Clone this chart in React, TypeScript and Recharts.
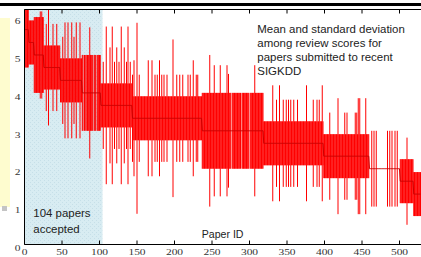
import React from 'react';
import { ComposedChart, Line, ErrorBar, XAxis, YAxis, ReferenceArea } from 'recharts';

// Mean review score of each block of papers (papers sorted by mean score)
const groupMeans = [5.67, 5.33, 5.0, 4.67, 4.33, 4.0, 3.67, 3.33, 3.0, 2.67, 2.33, 2.0, 1.67, 1.33];
// Number of papers in each block
const groupSizes = [5, 7, 13, 22, 29, 25, 42, 93, 82, 80, 61, 41, 18, 10];
// Typical standard deviation inside each block
const groupStds = [1.0, 0.58, 1.0, 0.58, 0.58, 1.0, 0.58, 0.58, 1.0, 0.58, 0.58, 0, 0.58, 0.58];
// Papers whose standard deviation differs from the block's typical one
const spikePapers = [
  21, 23,
  29, 32, 38, 43,
  51, 54, 58, 63, 66, 69, 74,
  79, 82, 87, 92, 96,
  105, 109, 114, 117, 120, 123, 126, 129, 133, 136, 138, 141,
  144, 146, 150, 153, 165, 170, 174, 177, 180, 183, 186, 190, 198, 203, 207, 211, 218, 221, 225, 229, 231,
  247, 253, 261, 270, 272, 276, 289, 300, 307,
  331, 336, 340, 345, 349, 352, 355, 359, 364, 376, 385, 390, 393, 397,
  407, 418, 427, 430, 441, 443, 445, 447, 455,
  463, 466, 469, 484, 487, 490, 494, 497,
  510,
];
const spikeStds = [
  1.15, 1.15,
  1.15, 1.53, 1.15, 1.15,
  1.15, 1.53, 1.53, 1.53, 1.15, 1.53, 1.53,
  0, 0, 1.73, 0, 0,
  1.15, 2.08, 1.53, 2.08, 1.15, 1.53, 1.15, 2.08, 1.53, 1.15, 2.08, 1.15,
  1.15, 1.53, 2.52, 1.15, 1.53, 1.53, 1.15, 1.15, 1.53, 1.15, 1.15, 1.15, 2.08, 1.15, 1.15, 1.15, 1.15, 1.15, 1.53, 1.15, 1.15,
  2.0, 1.73, 1.73, 1.73, 1.5, 0, 0, 0, 1.73,
  1.53, 1.15, 1.53, 1.15, 1.15, 1.15, 1.15, 1.15, 1.15, 1.53, 1.15, 1.15, 1.15, 1.53,
  1.15, 1.53, 1.15, 1.15, 1.15, 1.15, 1.53, 1.53, 1.53,
  1, 1, 1, 1, 1, 1, 1, 1,
  1.15,
];

const xTicks = [0, 50, 100, 150, 200, 250, 300, 350, 400, 450, 500];
const yTicks = [0, 1, 2, 3, 4, 5, 6];
const xDomain: [number, number] = [0, 540];
const yDomain: [number, number] = [0, 6.2];
const acceptedCount = 104;

const annotationLines = [
  'Mean and standard deviation',
  'among review scores for',
  'papers submitted to recent',
  'SIGKDD',
];
const acceptedLines = ['104 papers', 'accepted'];
const xTitle = 'Paper ID';

type Row = { x: number; mean: number; err: [number, number] };
const rows: Row[] = [];
{
  let paper = 1;
  groupMeans.forEach((m, g) => {
    for (let k = 0; k < groupSizes[g]; k++) {
      const si = spikePapers.indexOf(paper);
      const sd = si >= 0 ? spikeStds[si] : groupStds[g];
      // the upper whisker is cut at the top of the plot frame
      rows.push({ x: paper, mean: m, err: [sd, Math.min(sd, yDomain[1] - m)] });
      paper++;
    }
  });
}

const tickFont = '"Liberation Serif", "Times New Roman", serif';
const textFont = '"Liberation Sans", Arial, Helvetica, sans-serif';

const XTick = (props: any) => {
  const { x, y, payload } = props;
  return (
    <text
      transform={`translate(${x},${y + 6.5}) scale(1.35,1)`}
      x={0}
      y={0}
      textAnchor="middle"
      fontFamily={tickFont}
      fontSize={8.5}
      fill="#333"
    >
      {payload.value}
    </text>
  );
};

const YTick = (props: any) => {
  const { x, y, payload } = props;
  return (
    <text
      transform={`translate(${x},${y + 6.8}) scale(1.35,1)`}
      x={0}
      y={0}
      textAnchor="end"
      fontFamily={tickFont}
      fontSize={8.5}
      fill="#333"
    >
      {payload.value}
    </text>
  );
};

const EmptyTick = () => <g />;

export default function App() {
  return (
    <div
      style={{
        position: 'absolute',
        left: 0,
        top: 0,
        width: 421,
        height: 257,
        overflow: 'hidden',
        background: '#fff',
      }}
    >
      <svg width={0} height={0} style={{ position: 'absolute' }}>
        <defs>
          <pattern id="acceptDots" width={4} height={4} patternUnits="userSpaceOnUse">
            <rect width={4} height={4} fill="#d8ecf2" />
            <rect x={0} y={0} width={1} height={1} fill="#c6dfe8" />
            <rect x={2} y={2} width={1} height={1} fill="#c6dfe8" />
          </pattern>
        </defs>
      </svg>
      <div style={{ position: 'absolute', left: 0, top: 3, width: 421, height: 3, background: '#000' }} />
      <div style={{ position: 'absolute', left: 0, top: 18, width: 10, height: 189, background: '#fefccf' }} />
      <div style={{ position: 'absolute', left: 2, top: 206, width: 5, height: 5, background: '#c4c4c4' }} />
      <div style={{ position: 'absolute', left: 0, top: 0 }}>
        <ComposedChart
          width={440}
          height={257}
          data={rows}
          margin={{ top: 8.5, right: 10.5, bottom: 0, left: 0.5 }}
        >
          <XAxis
            dataKey="x"
            type="number"
            domain={xDomain}
            ticks={xTicks}
            allowDataOverflow
            height={12.5}
            tickSize={-4}
            tickMargin={8}
            tick={<XTick />}
            axisLine={{ stroke: '#000', strokeWidth: 1 }}
            tickLine={{ stroke: '#000', strokeWidth: 1 }}
            interval={0}
          />
          <XAxis
            xAxisId="top"
            dataKey="x"
            orientation="top"
            type="number"
            domain={xDomain}
            ticks={xTicks}
            allowDataOverflow
            height={1}
            tickSize={-4}
            tick={<EmptyTick />}
            axisLine={{ stroke: '#000', strokeWidth: 1 }}
            tickLine={{ stroke: '#000', strokeWidth: 1 }}
            interval={0}
          />
          <YAxis
            type="number"
            domain={yDomain}
            ticks={yTicks}
            allowDataOverflow
            width={24}
            tickSize={0}
            tickMargin={4}
            tick={<YTick />}
            axisLine={{ stroke: '#000', strokeWidth: 1 }}
            interval={0}
          />
          <ReferenceArea
            x1={0}
            x2={acceptedCount}
            fill="url(#acceptDots)"
            fillOpacity={1}
            stroke="none"
          />
          <Line
            dataKey="mean"
            stroke="none"
            dot={false}
            activeDot={false}
            isAnimationActive={false}
          >
            <ErrorBar dataKey="err" width={0} stroke="#ff0000" strokeWidth={1} direction="y" isAnimationActive={false} />
          </Line>
          <Line
            xAxisId="top"
            dataKey="mean"
            stroke="#c80000"
            strokeWidth={1}
            dot={false}
            activeDot={false}
            isAnimationActive={false}
          />
        </ComposedChart>
      </div>
      <svg
        width={421}
        height={257}
        style={{ position: 'absolute', left: 0, top: 0, pointerEvents: 'none' }}
      >
        {annotationLines.map((t, i) => (
          <text key={t} x={257.3} y={32.5 + i * 14} fontFamily={textFont} fontSize={11.45} fill="#222">
            {t}
          </text>
        ))}
        {acceptedLines.map((t, i) => (
          <text key={t} x={33.3} y={216.7 + i * 16} fontFamily={textFont} fontSize={11.45} fill="#222">
            {t}
          </text>
        ))}
        <text x={201.7} y={238} fontFamily={textFont} fontSize={10.6} fill="#222">
          {xTitle}
        </text>
      </svg>
    </div>
  );
}
